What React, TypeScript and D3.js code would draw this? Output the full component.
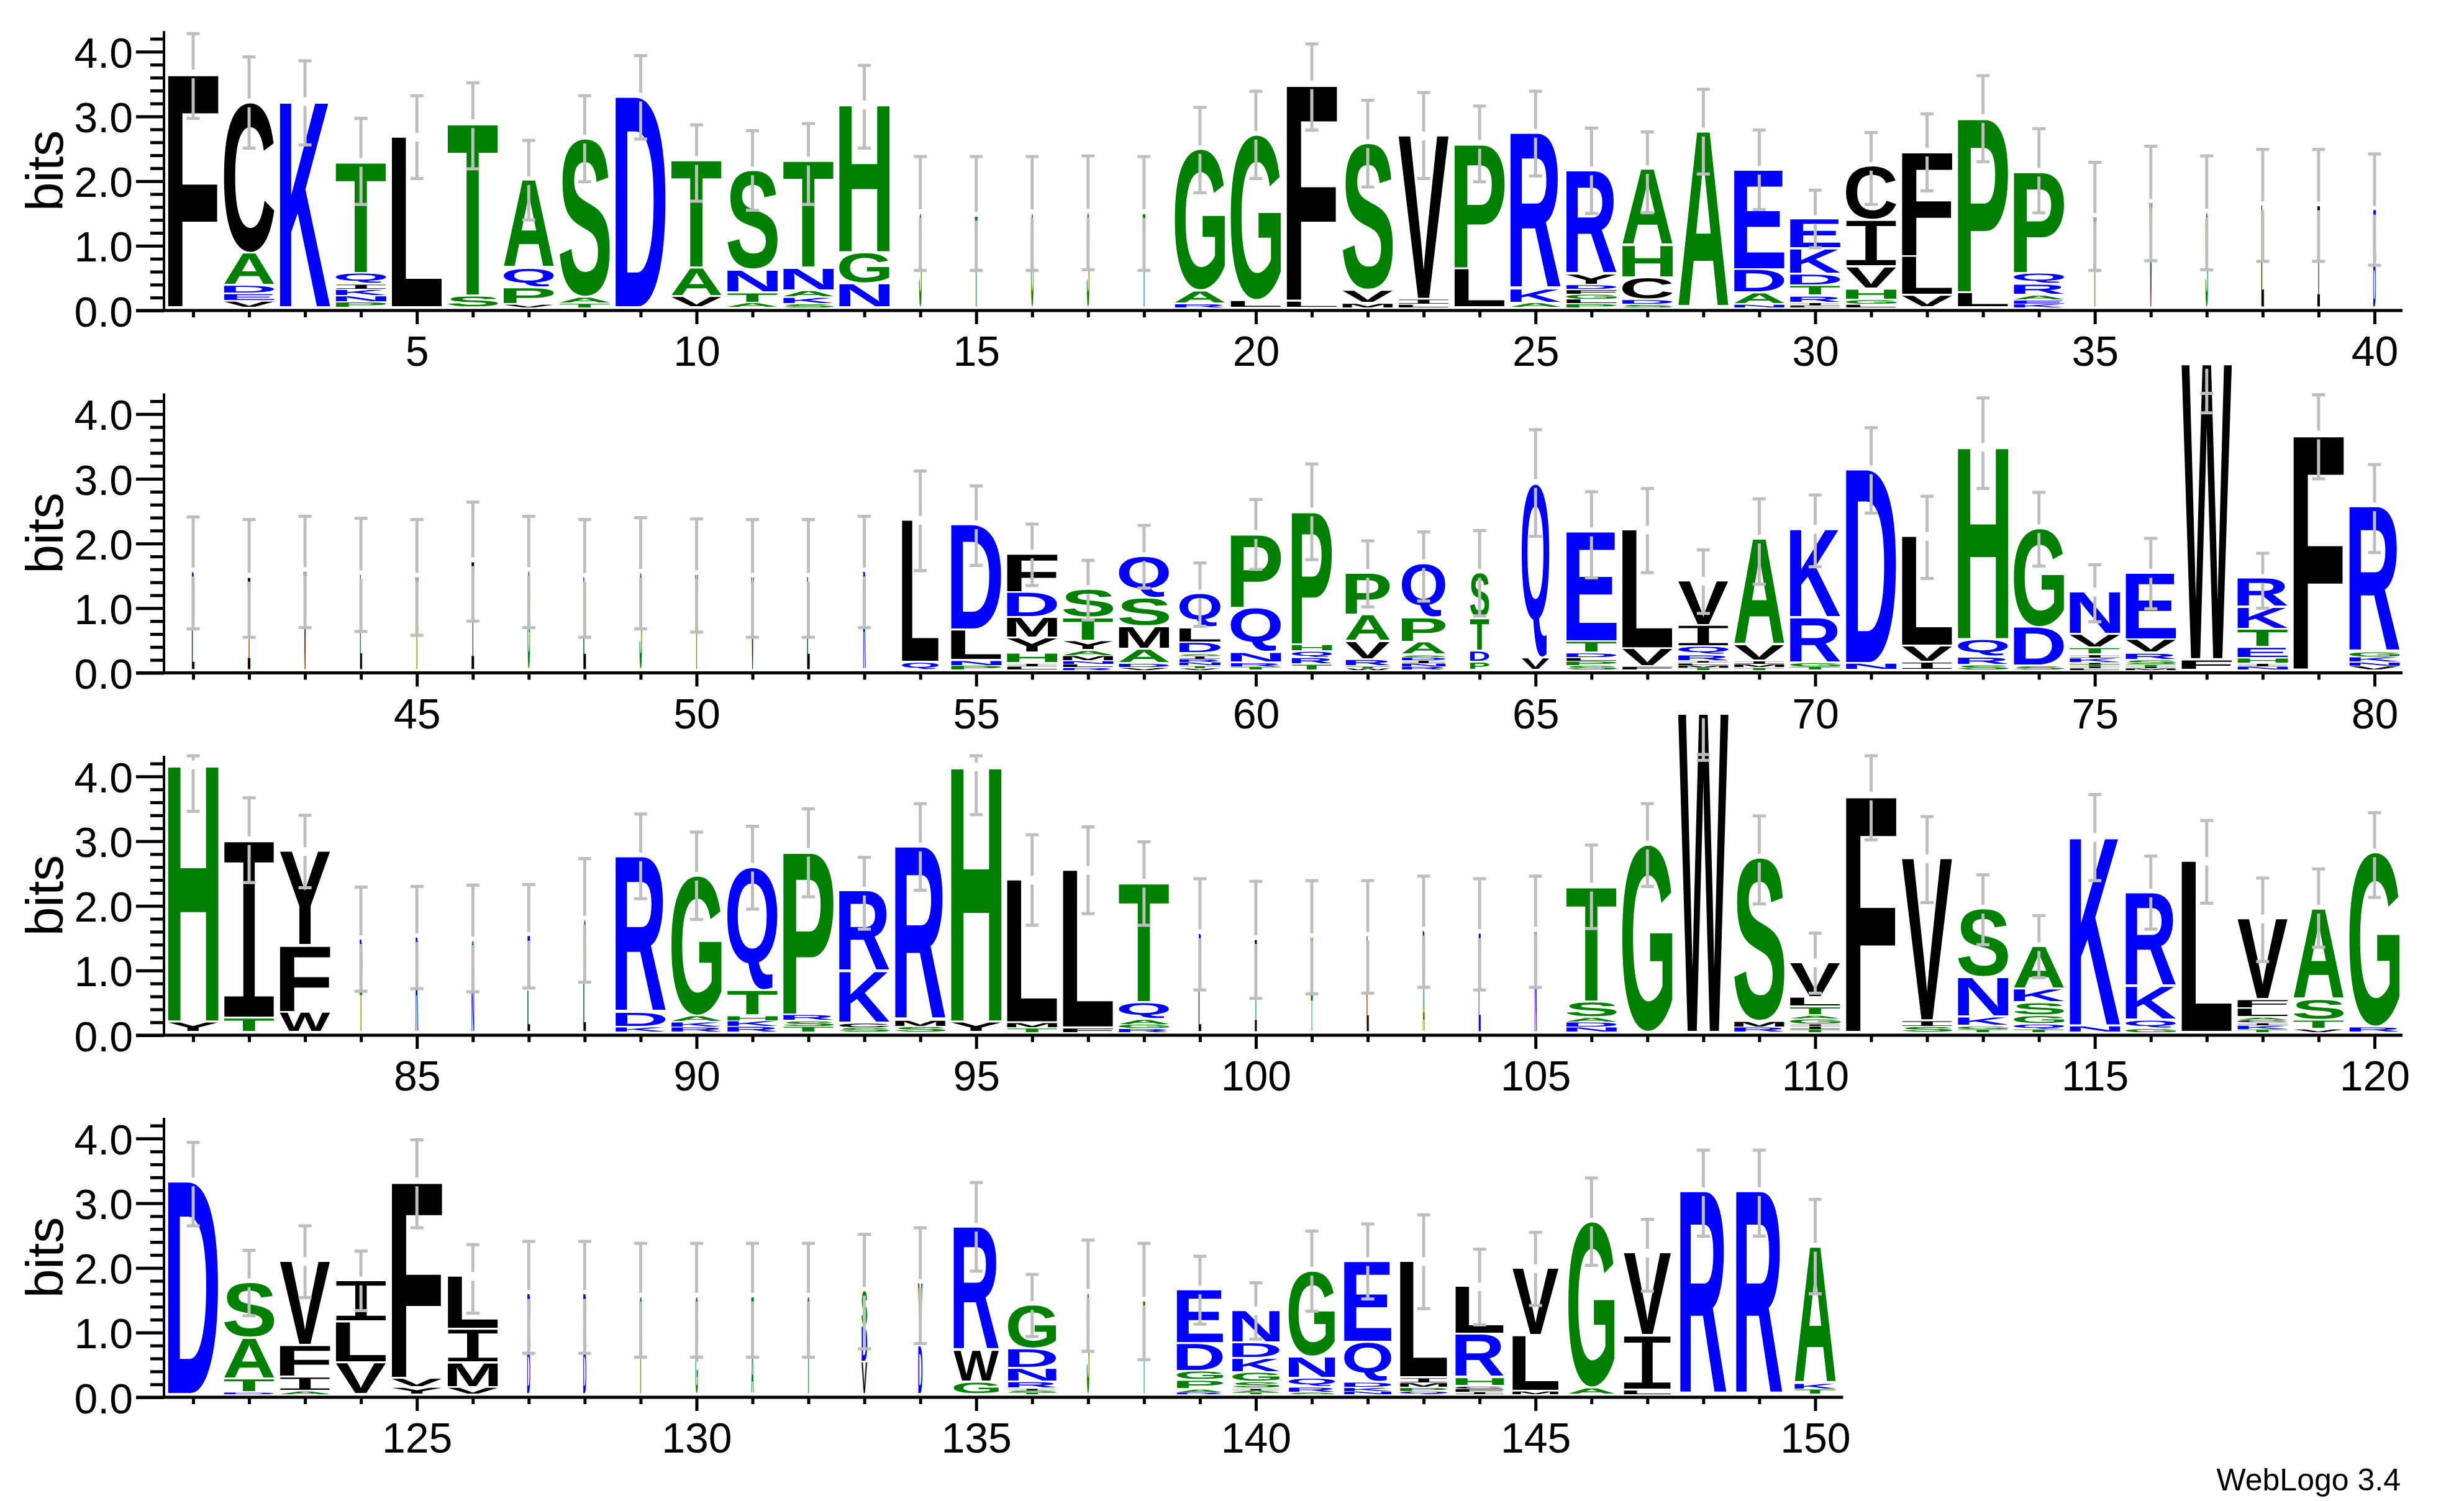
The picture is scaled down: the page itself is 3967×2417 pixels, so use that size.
import { useEffect, useRef } from 'react';
import * as d3 from 'd3';

// one string per position, letters bottom to top, number = height in bits
const row1Stacks = [
  'F3.62', 'V.1 E.11 D.13 A.5 C2.33', 'K3.19', 'P.085 N.095 K.1 I.08 Q.17 T1.72', 'L2.64',
  'S.18 T2.67', 'V.05 P.26 Q.3 A1.36', 'T.07 A.09 S2.45', 'D3.26', 'V.17 A.44 T1.67',
  'A.07 T.16 N.35 S1.54', 'S.06 K.1 A.1 N.35 T1.66', 'N.37 G.48 H2.29', 'S1.46', 'T1.42',
  'G1.46', 'S1.47', 'T1.46', 'R.06 A.2 G2.19', 'L.11 G2.56',
  'L.1 F3.35', 'M.07 V.2 S2.27', 'L.05 I.08 V2.53', 'L.6 P1.93', 'A.07 K.22 R2.41',
  'P.06 L.07 G.08 F.07 D.07 Y.17 R1.6', 'S.05 D.07 C.34 H.5 A1.18', 'A2.72', 'N.05 A.18 D.36 E1.54', 'L.03 I.05 R.1 T.16 D.18 K.39 E.46',
  'L.05 G.07 H.17 V.34 I.72 C.84', 'V.19 L.6 F1.62', 'L.23 P2.7', 'K.06 E.06 A.07 R.17 Q.17 P1.57', 'T.7 V.7',
  'V1.62', 'S1.47', 'L1.58', 'I1.58', 'D.7 E.81',
];
const row1Hi = [
  4.28, 3.92, 3.86, 2.97, 3.32, 3.52, 2.63, 3.32, 3.94, 2.87, 2.78, 2.89, 3.79, 2.38, 2.38, 2.38, 2.39, 2.38, 3.14, 3.39,
  4.12, 3.25, 3.37, 3.16, 3.39, 2.82, 2.76, 3.42, 2.79, 1.86, 2.75, 3.04, 3.63, 2.81, 2.29, 2.54, 2.39, 2.49, 2.49, 2.42,
];
const row1Lo = [
  2.97, 2.51, 2.56, 1.64, 2.04, 2.19, 1.4, 1.99, 2.65, 1.69, 1.55, 1.64, 2.51, 0.62, 0.62, 0.62, 0.63, 0.62, 1.82, 2.04,
  2.79, 1.91, 2.04, 1.99, 2.08, 1.5, 1.51, 2.11, 1.56, 0.97, 1.64, 1.85, 2.3, 1.51, 0.62, 0.77, 0.63, 0.76, 0.76, 0.7,
];
const row1Weights = [
  1, 1, 1, 1, 1, 1, 1, 1, 1, 1, 1, 1, 1, 0.05, 0.05, 0.05, 0.05, 0.05, 1, 1,
  1, 1, 1, 1, 1, 1, 1, 1, 1, 1, 1, 1, 1, 1, 0.05, 0.05, 0.05, 0.05, 0.05, 0.05,
];

const row2Stacks = [
  'L.68 D.84', 'I1.44', 'V1.53', 'L1.48', 'T.7 V.74',
  'I1.68', 'G1.53', 'L1.44', 'S1.5', 'T.7 V.78',
  'V1.44', 'L1.44', 'R1.52', 'Q.12 L2.2', 'P.07 N.08 L.47 D1.63',
  'L.05 I.05 H.16 Y.23 M.32 D.39 F.6', 'R.04 L.05 N.05 M.08 A.08 Y.15 T.36 S.44', 'V.04 D.06 A.22 M.35 S.44 Q.65', 'V.03 T.04 N.05 R.05 I.05 S.03 D.17 L.23 Q.53', 'T.05 R.06 N.16 Q.69 P1.14',
  'T.09 R.1 Q.1 H.1 P2.06', 'W.03 T.03 R.1 V.28 A.41 P.65', 'R.05 N.05 I.05 D.05 S.03 A.2 P.38 Q.84', 'P.12 D.17 T.5 S.71', 'V.19 Q2.7',
  'S.07 P.07 L.05 D.07 T.18 E1.7', 'F.05 V.28 L1.84', 'T.04 M.04 L.03 I.03 R.09 Q.13 I.33 V.69', 'T.04 M.05 I.05 V.25 A1.64', 'T.05 G.06 R.7 K1.37',
  'N.1 D3', 'I.12 V.25 L1.7', 'S.08 R.12 Q.27 H2.98', 'S.06 D.6 G1.53', 'L.03 I.03 T.03 I.03 K.07 I.05 T.1 V.21 N.66',
  'M.03 I.03 T.03 S.07 R.1 V.21 E1.03', 'F.16 W4.57', 'N.05 I.05 H.08 E.17 T.28 K.34 R.45', 'F3.64', 'V.06 N.06 K.08 G.08 R2.25',
];
const row2Hi = [
  2.41, 2.37, 2.42, 2.39, 2.37, 2.64, 2.42, 2.37, 2.4, 2.38, 2.37, 2.37, 2.42, 3.12, 2.89, 2.3, 1.74, 2.28, 1.7, 2.68,
  3.23, 2.04, 2.18, 2.2, 3.76, 2.8, 2.85, 1.9, 2.69, 2.75, 3.79, 2.73, 4.25, 2.79, 1.67, 2.08, 4.32, 1.85, 4.3, 3.22,
];
const row2Lo = [
  0.68, 0.55, 0.7, 0.64, 0.58, 0.8, 0.7, 0.55, 0.68, 0.63, 0.55, 0.55, 0.7, 1.58, 1.66, 1.35, 0.82, 1.31, 0.72, 1.6,
  1.75, 1.02, 1.11, 0.88, 2.11, 1.47, 1.55, 0.92, 1.37, 1.64, 2.47, 1.46, 2.85, 1.65, 0.79, 0.99, 4.02, 1.0, 3.0, 1.86,
];
const row2Weights = [
  0.05, 0.05, 0.05, 0.04, 0.05, 0.05, 0.05, 0.05, 0.05, 0.05, 0.05, 0.05, 0.05, 0.73, 1, 1, 1, 1, 0.82, 1,
  0.8, 0.88, 0.87, 0.38, 0.55, 1, 1, 1, 1, 1, 1, 1, 1, 1, 1, 1, 1, 1, 1, 1,
];

const row3Stacks = [
  'Y.16 H3.98', 'T.22 I2.75', 'W.31 F1.03 Y1.46', 'T.7 D.74', 'R1.47',
  'N.7 S.72', 'L.65 E.84', 'L.85 G.89', 'K.08 D.23 R2.41', 'R.08 K.08 A.09 G2.17',
  'R.09 K.09 H.08 T.39 Q1.91', 'T.09 S.09 R.09 P2.52', 'S.07 C.07 K.8 R1.25', 'S.09 M.1 R2.68', 'Y.16 H3.95',
  'T.07 M.08 L2.21', 'F.07 L2.44', 'R.06 G.06 A.08 Q.26 T1.85', 'L.65 R.88', 'I1.44',
  'T.6 V.87', 'L1.49', 'A.7 D.87', 'E1.53', 'N1.57',
  'N.08 D.08 A.07 S.24 T1.78', 'G2.9', 'W4.93', 'R.08 M.09 S2.53', 'T.05 I.05 I.03 G.08 A.05 T.13 L.15 V.54',
  'F3.66', 'S.09 I.09 V2.51', 'T.05 G.05 K.14 N.61 S1.06', 'T.05 Q.08 G.13 S.2 K.21 A.66', 'N.1 K2.92',
  'G.06 Q.13 K.52 R1.45', 'L2.65', 'T.05 K.06 I.04 C.04 A.04 L.14 F.14 V1.25', 'V.05 T.14 S.32 A1.4', 'R.08 G2.7',
];
const row3Hi = [
  4.32, 3.67, 3.4, 2.29, 2.3, 2.32, 2.33, 2.73, 3.42, 3.14, 3.23, 3.5, 2.75, 3.58, 4.32, 3.1, 3.22, 2.99, 2.42, 2.38,
  2.39, 2.39, 2.46, 2.42, 2.46, 2.94, 3.58, 4.34, 3.39, 1.58, 4.32, 3.38, 2.48, 1.85, 3.72, 2.77, 3.32, 2.43, 2.57, 3.44,
];
const row3Lo = [
  3.46, 2.36, 2.28, 0.68, 0.72, 0.67, 0.73, 0.82, 2.11, 1.79, 1.95, 2.14, 1.64, 2.24, 3.41, 1.7, 1.88, 1.7, 0.7, 0.57,
  0.64, 0.65, 0.74, 0.7, 0.74, 1.65, 2.3, 4.25, 2.03, 0.65, 3.02, 2.05, 1.4, 0.89, 2.39, 1.64, 2.04, 1.14, 1.36, 2.13,
];
const row3Weights = [
  1, 1, 1, 0.05, 0.05, 0.05, 0.05, 0.05, 1, 1, 1, 1, 1, 1, 1, 1, 1, 1, 0.05, 0.04,
  0.04, 0.04, 0.04, 0.04, 0.04, 1, 1, 1, 1, 1, 1, 1, 1, 1, 1, 1, 1, 1, 1, 1,
];

const row4Stacks = [
  'D3.29', 'D.03 T.21 A.63 S.86', 'A.05 I.22 F.49 V1.3', 'V.49 L.63 I.64', 'Y.11 V.14 F3.04',
  'V.11 M.38 I.52 L.82', 'D.7 R.85', 'D.7 R.85', 'T.7 S.81', 'G.7 S.81',
  'A.7 T.81', 'T.7 S.81', 'V.5 D.55 S.55', 'D.75 V.97', 'G.19 W.49 R1.91',
  'T.03 S.03 I.03 R.1 N.21 D.3 G.68', 'S1.57', 'T1.45', 'R.03 A.05 P.14 G.14 D.43 E.83', 'T.03 A.03 I.03 S.1 G.15 K.22 D.24 N.5',
  'S.03 R.08 Q.14 N.33 G1.33', 'N.05 K.06 D.08 Q.62 E1.25', 'Q.05 P.06 M.07 I.08 L1.8', 'I.04 F.05 C.04 H.13 R.67 L.74', 'M.05 L.86 V1.04',
  'A.1 G2.57', 'L.07 I.84 V1.28', 'R3.14', 'R3.14', 'T.08 K.09 A2.11',
];
const row4Hi = [
  3.94, 2.27, 2.65, 2.26, 3.98, 2.36, 2.41, 2.41, 2.38, 2.38, 2.38, 2.38, 2.52, 2.62, 3.32, 1.9, 2.43, 2.38, 2.18, 1.77,
  2.57, 2.68, 2.82, 2.29, 2.55, 3.39, 2.75, 3.82, 3.82, 3.06,
];
const row4Lo = [
  2.65, 1.26, 1.54, 1.34, 2.62, 1.3, 0.68, 0.68, 0.62, 0.62, 0.62, 0.62, 0.75, 0.83, 1.95, 0.94, 0.71, 0.58, 1.13, 0.9,
  1.33, 1.52, 1.37, 1.12, 1.42, 2.04, 1.64, 2.49, 2.49, 1.6,
];
const row4Weights = [
  1, 1, 1, 1, 1, 1, 0.06, 0.06, 0.05, 0.05, 0.05, 0.05, 0.11, 0.08, 0.9,
  0.96, 0.05, 0.04, 0.92, 0.94, 0.92, 0.94, 0.94, 0.96, 0.92, 0.92, 0.94, 0.92, 0.92, 0.82,
];

const yMajorTicks = [0, 1, 2, 3, 4];
const yMinorTicks = [
  0.2, 0.4, 0.6, 0.8, 1.2, 1.4, 1.6, 1.8, 2.2, 2.4, 2.6, 2.8, 3.2, 3.4, 3.6, 3.8, 4.2,
];

const greenLetters = 'AGHPST';
const blueLetters = 'DEKNQR';

const WIDTH = 3967;
const HEIGHT = 2417;
const BAR_GREY = '#bebebe';
const SANS = '"Liberation Sans", Arial, sans-serif';

const letterColor = (c: string) =>
  greenLetters.includes(c) ? '#008000' : blueLetters.includes(c) ? '#0000ff' : '#000000';

// the reference's I has slab ends, so it comes from the mono face
const letterFont = (c: string) =>
  c === 'I' ? '"Liberation Mono", monospace' : SANS;
const letterWeight = (c: string) => (c === 'I' ? 'normal' : 'bold');

const parseStack = (s: string) =>
  s.split(' ').map((part) => ({ letter: part[0], bits: parseFloat(part.slice(1)) }));

// ink box of a glyph, measured at 200px, so it can be stretched to its cell
const inkCache: Record<string, { left: number; right: number; ascent: number; descent: number }> = {};
const measureInk = (c: string) => {
  if (inkCache[c]) return inkCache[c];
  const ctx = document.createElement('canvas').getContext('2d')!;
  ctx.font = `${letterWeight(c)} 200px ${letterFont(c)}`;
  const m = ctx.measureText(c);
  inkCache[c] = {
    left: -m.actualBoundingBoxLeft,
    right: m.actualBoundingBoxRight,
    ascent: m.actualBoundingBoxAscent,
    descent: m.actualBoundingBoxDescent,
  };
  return inkCache[c];
};

const rows = [
  { first: 1, axisY: 500, stacks: row1Stacks, hi: row1Hi, lo: row1Lo, weights: row1Weights },
  { first: 41, axisY: 1083.5, stacks: row2Stacks, hi: row2Hi, lo: row2Lo, weights: row2Weights },
  { first: 81, axisY: 1667, stacks: row3Stacks, hi: row3Hi, lo: row3Lo, weights: row3Weights },
  { first: 121, axisY: 2250, stacks: row4Stacks, hi: row4Hi, lo: row4Lo, weights: row4Weights },
];

export default function App() {
  const svgRef = useRef<SVGSVGElement>(null);

  useEffect(() => {
    if (!svgRef.current) return;
    const svg = d3.select(svgRef.current);
    svg.selectAll('*').remove();

    const slot = 90.05;
    const inkWidth = 81;
    const left = 311;

    rows.forEach((row) => {
      const x = d3.scaleLinear()
        .domain([row.first, row.first + 39])
        .range([left, left + 39 * slot]);
      const y = d3.scaleLinear()
        .domain([0, 4.32])
        .range([row.axisY, row.axisY - 450]);
      const baseShift = 4;

      const g = svg.append('g');

      // letters
      row.stacks.forEach((stack, i) => {
        const pos = row.first + i;
        const w = inkWidth * row.weights[i];
        let bottom = y(0) - baseShift;
        parseStack(stack).forEach(({ letter, bits }) => {
          const h = y(0) - y(bits);
          const gap = Math.min(3, h * 0.2);
          const ink = measureInk(letter);
          const sx = w / (ink.right - ink.left);
          const sy = (h - gap) / (ink.ascent + ink.descent);
          const inkBottom = bottom - gap;
          const tx = x(pos) - (sx * (ink.left + ink.right)) / 2;
          const ty = inkBottom - sy * ink.descent;
          const t = g.append('text')
            .attr('transform', `translate(${tx},${ty}) scale(${sx},${sy})`)
            .attr('font-family', letterFont(letter))
            .attr('font-weight', letterWeight(letter))
            .attr('font-size', 200)
            .attr('text-rendering', 'geometricPrecision')
            .attr('fill', letterColor(letter))
            .text(letter);
          // very narrow columns would fade out without a hairline round them
          if (row.weights[i] < 0.15) {
            t.attr('stroke', letterColor(letter))
              .attr('stroke-width', 1)
              .attr('vector-effect', 'non-scaling-stroke');
          }
          bottom -= h;
        });

        // error bar, broken around the top of the stack
        const topY = bottom;
        const yHi = y(row.hi[i]);
        const yLo = y(row.lo[i]);
        const bar = (y1: number, y2: number) =>
          g.append('line')
            .attr('x1', x(pos)).attr('x2', x(pos))
            .attr('y1', y1).attr('y2', y2)
            .attr('stroke', BAR_GREY)
            .attr('stroke-width', 5);
        if (yHi < topY - 7) bar(yHi, topY - 7);
        if (yLo > topY + 7) bar(topY + 7, yLo);
        [yHi, yLo].forEach((cy) => {
          g.append('rect')
            .attr('x', x(pos) - 10.5)
            .attr('y', cy - 2.5)
            .attr('width', 21)
            .attr('height', 5)
            .attr('fill', BAR_GREY);
        });
      });

      // axes
      const positions = d3.range(row.first, row.first + row.stacks.length);
      const lastPos = positions[positions.length - 1];
      const styleAxis = (a: d3.Selection<SVGGElement, unknown, null, undefined>) => {
        a.selectAll('line').attr('stroke', '#000').attr('stroke-width', 5);
        a.select('.domain').remove();
        a.selectAll('text')
          .attr('font-family', SANS)
          .attr('font-size', 68)
          .attr('fill', '#000');
      };

      const xMajor = positions.filter((p) => p % 5 === 0);
      const xMinor = positions.filter((p) => p % 5 !== 0);
      const xAxisMajor = g.append('g')
        .attr('transform', `translate(0,${row.axisY})`)
        .call(d3.axisBottom(x).tickValues(xMajor).tickFormat(d3.format('d')).tickSize(22).tickPadding(0));
      styleAxis(xAxisMajor);
      xAxisMajor.selectAll('text').attr('y', 89).attr('dy', 0);
      const xAxisMinor = g.append('g')
        .attr('transform', `translate(0,${row.axisY})`)
        .call(d3.axisBottom(x).tickValues(xMinor).tickFormat(() => '').tickSize(11));
      styleAxis(xAxisMinor);

      const yAxisMajor = g.append('g')
        .attr('transform', 'translate(264,0)')
        .call(d3.axisLeft(y).tickValues(yMajorTicks).tickFormat(d3.format('.1f')).tickSize(45).tickPadding(0));
      styleAxis(yAxisMajor);
      yAxisMajor.selectAll('text').attr('x', -50).attr('dy', 0).attr('y', 25);
      const yAxisMinor = g.append('g')
        .attr('transform', 'translate(264,0)')
        .call(d3.axisLeft(y).tickValues(yMinorTicks).tickFormat(() => '').tickSize(22));
      styleAxis(yAxisMinor);

      g.append('line')
        .attr('x1', 264).attr('x2', 264)
        .attr('y1', y(4.32)).attr('y2', y(0))
        .attr('stroke', '#000').attr('stroke-width', 4);
      g.append('line')
        .attr('x1', 219).attr('x2', x(lastPos) + 45)
        .attr('y1', y(0)).attr('y2', y(0))
        .attr('stroke', '#000').attr('stroke-width', 5);

      g.append('text')
        .attr('transform', `translate(101,${row.axisY - 225}) rotate(-90)`)
        .attr('text-anchor', 'middle')
        .attr('font-family', SANS)
        .attr('font-size', 84)
        .attr('fill', '#000')
        .text('bits');
    });

    svg.append('text')
      .attr('x', 3865)
      .attr('y', 2400)
      .attr('text-anchor', 'end')
      .attr('font-family', SANS)
      .attr('font-size', 50)
      .attr('fill', '#000')
      .text('WebLogo 3.4');
  }, []);

  return (
    <svg
      ref={svgRef}
      width={WIDTH}
      height={HEIGHT}
      style={{ position: 'absolute', left: 0, top: 0, background: '#fff' }}
    />
  );
}
